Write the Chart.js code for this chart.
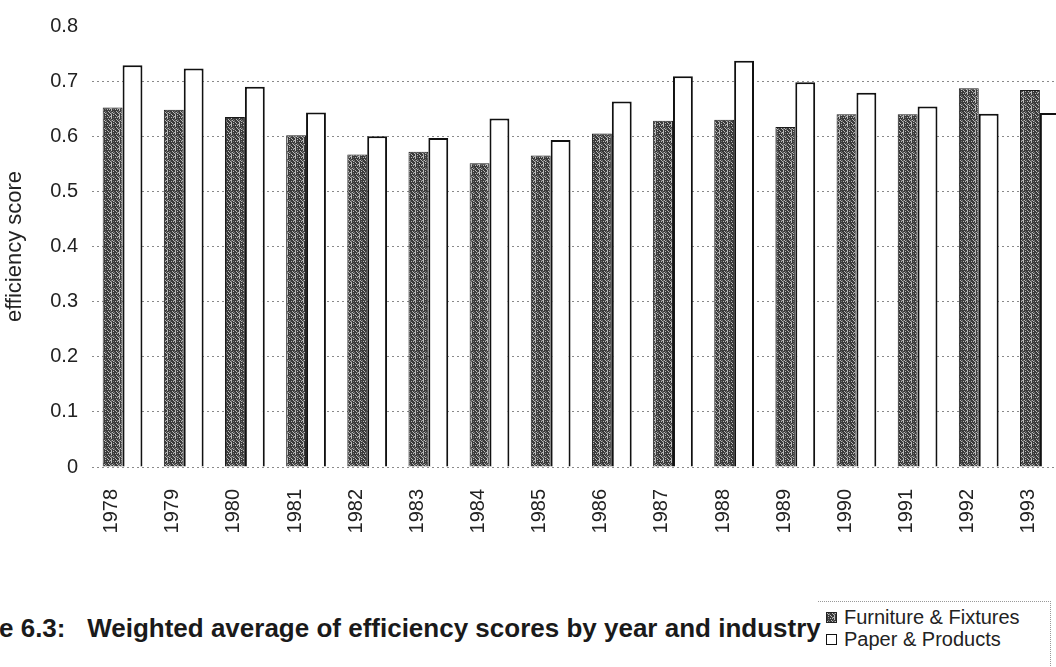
<!DOCTYPE html>
<html>
<head>
<meta charset="utf-8">
<script src="https://cdn.jsdelivr.net/npm/chart.js@4/dist/chart.umd.min.js"></script>
<style>
    body { margin: 0; width: 1056px; height: 667px; overflow: hidden; background: #fff; position: relative; font-family: "Liberation Sans", Arial, sans-serif; }
    #wrap { position: absolute; left: 0; top: 0; width: 1078px; height: 540px; }
    #caption { position: absolute; left: -1px; top: 613px; font-size: 26px; font-weight: bold; color: #1a1a1a; white-space: pre; }
    #legend { position: absolute; left: 818px; top: 601px; width: 232px; height: 80px; border-top: 1px dotted #999; border-right: 1px dotted #999; }
    #legend div { position: absolute; left: 8px; font-size: 20px; color: #222; white-space: nowrap; line-height: 22px; }
    #legend span { display: inline-block; width: 11px; height: 11px; margin-right: 7px; vertical-align: 1px; box-sizing: border-box; }
</style>
</head>
<body>
<div id="wrap"><canvas id="effChart" width="1078" height="540"></canvas></div>
<div id="caption">e 6.3:   Weighted average of efficiency scores by year and industry</div>
<div id="legend"></div>
<script>
const years = ["1978", "1979", "1980", "1981", "1982", "1983", "1984", "1985",
               "1986", "1987", "1988", "1989", "1990", "1991", "1992", "1993"];
const furniture = [0.652, 0.648, 0.635, 0.602, 0.567, 0.572, 0.551, 0.565,
                   0.605, 0.628, 0.630, 0.617, 0.640, 0.640, 0.687, 0.684];
const paper = [0.729, 0.723, 0.690, 0.643, 0.600, 0.597, 0.632, 0.593,
               0.663, 0.709, 0.737, 0.698, 0.679, 0.654, 0.641, 0.642];
const yTicks = [0, 0.1, 0.2, 0.3, 0.4, 0.5, 0.6, 0.7, 0.8];

// speckled dark fill, like the scanned shading
function makeSpeckle() {
    let n = 8;
    let c = document.createElement("canvas");
    c.width = n; c.height = n;
    let g = c.getContext("2d");
    let img = g.createImageData(n, n);
    for (let y = 0; y < n; y++) {
        for (let x = 0; x < n; x++) {
            let k = (x * 37 + y * 91 + ((x * y) % 7) * 13) % 23;
            let v = k < 5 ? 185 : (k < 9 ? 110 : 58);
            let p = (y * n + x) * 4;
            img.data[p] = img.data[p + 1] = img.data[p + 2] = v;
            img.data[p + 3] = 255;
        }
    }
    g.putImageData(img, 0, 0);
    return c;
}

let speckle = makeSpeckle();
let ctx = document.getElementById("effChart").getContext("2d");
let darkFill = ctx.createPattern(speckle, "repeat");

let effChart = new Chart(ctx, {
    type: "bar",
    data: {
        labels: years,
        datasets: [
            {
                label: "Furniture & Fixtures",
                data: furniture,
                backgroundColor: darkFill,
                borderColor: "#1a1a1a",
                borderWidth: 1,
                categoryPercentage: 0.65,
                barPercentage: 1.0
            },
            {
                label: "Paper & Products",
                data: paper,
                backgroundColor: "#ffffff",
                borderColor: "#111111",
                borderWidth: 2,
                categoryPercentage: 0.65,
                barPercentage: 1.0
            }
        ]
    },
    options: {
        responsive: false,
        animation: false,
        layout: { padding: { top: 20, right: 3, bottom: 3, left: 0 } },
        plugins: {
            legend: { display: false },
            tooltip: { enabled: false }
        },
        scales: {
            x: {
                grid: { display: false },
                border: { display: false },
                ticks: {
                    color: "#222",
                    font: { family: "Liberation Sans", size: 20 },
                    minRotation: 90,
                    maxRotation: 90,
                    padding: 14,
                    labelOffset: -11
                },
                afterFit: (scale) => { scale.height = 70; }
            },
            y: {
                min: 0,
                max: 0.8,
                afterBuildTicks: (scale) => { scale.ticks = yTicks.map(v => ({ value: v })); },
                grid: {
                    color: (c) => c.tick && c.tick.value === 0.8 ? "rgba(0,0,0,0)" : "#8a8a8a",
                    lineWidth: 1,
                    drawTicks: false
                },
                border: { display: false, dash: [2, 3] },
                ticks: {
                    color: "#222",
                    font: { family: "Liberation Sans", size: 20 },
                    padding: 14,
                    callback: (v) => v === 0 ? "0" : v.toFixed(1)
                },
                title: {
                    display: true,
                    text: "efficiency score",
                    color: "#222",
                    font: { family: "Liberation Sans", size: 22 },
                    padding: { top: 2, bottom: 2 }
                },
                afterFit: (scale) => { scale.width = 92; }
            }
        }
    }
});

// legend built from the chart's datasets
let legendBox = document.getElementById("legend");
effChart.data.datasets.forEach((ds, i) => {
    let row = document.createElement("div");
    row.style.top = (4 + i * 22) + "px";
    let sw = document.createElement("span");
    if (i === 0) {
        sw.style.backgroundImage = "url(" + speckle.toDataURL() + ")";
        sw.style.border = "1px solid #222";
    } else {
        sw.style.background = "#fff";
        sw.style.border = "1.5px solid #111";
    }
    row.appendChild(sw);
    row.appendChild(document.createTextNode(ds.label));
    legendBox.appendChild(row);
});
</script>
</body>
</html>
